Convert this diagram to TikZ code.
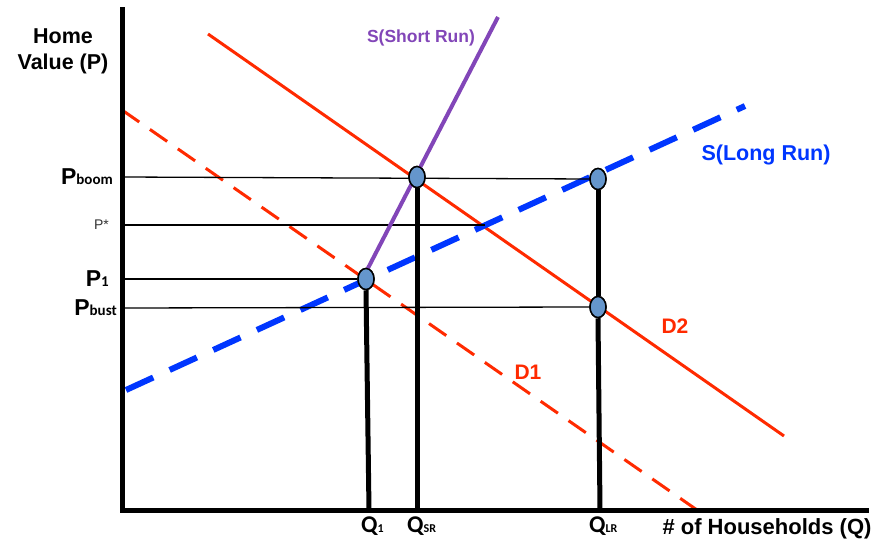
\documentclass[tikz,border=0pt]{standalone}
\usepackage{fontspec}
\setmainfont{Liberation Sans}
\newfontfamily\calib{Carlito}
\usetikzlibrary{shapes.geometric}
\definecolor{dred}{HTML}{FF2A00}
\definecolor{sblue}{HTML}{0036FF}
\definecolor{spurple}{HTML}{8246B8}
\definecolor{dotfill}{HTML}{6596CC}
\tikzset{
  axis/.style={line width=5pt, line cap=rect},
  guide/.style={line width=1.3pt},
  drop/.style={line width=5pt},
  demand/.style={dred, line width=3pt},
  supplylr/.style={sblue, line width=6pt, dash pattern=on 30pt off 18pt},
  supplysr/.style={spurple, line width=4pt},
  eq/.style={ellipse, draw=black, line width=1.5pt, fill=dotfill, minimum width=16pt, minimum height=21pt, inner sep=0pt},
  lbl/.style={font=\bfseries, inner sep=0pt}
}
\begin{document}
\begin{tikzpicture}[x=1pt,y=-1pt]
\useasboundingbox (0,0) rectangle (875,545);
% axes
\coordinate (o) at (122,510);
\coordinate (ytop) at (122,10);
\coordinate (xend) at (866,510);
% demand and supply curves
\coordinate (d1a) at (122,110);
\coordinate (d1b) at (697,510);
\coordinate (d2a) at (208,34);
\coordinate (d2b) at (784,436);
\coordinate (lra) at (126,390);
\coordinate (lrb) at (745,106);
\coordinate (sra) at (366,272);
\coordinate (srb) at (498,17);
\draw[demand, dash pattern=on 21pt off 13pt] (d1a) -- (d1b);
\draw[demand] (d2a) -- (d2b);
\draw[supplylr] (lra) -- (lrb);
% guide lines
\coordinate (yboom) at (122,177);
\coordinate (ystar) at (122,225);
\coordinate (ystarend) at (485,225);
\coordinate (y1) at (122,279);
\coordinate (ybust) at (122,308);
\coordinate (x1) at (369,510);
\coordinate (xsr) at (417,510);
\coordinate (xlr) at (600,510);
\node[eq] (e1) at (366,279) {};
\node[eq] (esr) at (417,177) {};
\node[eq] (elr) at (598,179) {};
\node[eq] (ebust) at (598,307) {};
\draw[guide] (yboom) -- (elr.west);
\draw[guide] (ystar) -- (ystarend);
\draw[guide] (y1) -- (e1.west);
\draw[guide] (ybust) -- (ebust.west);
\draw[drop] (e1.south) -- (x1);
\draw[drop] (esr.south) -- (xsr);
\draw[drop] (elr.south) -- (ebust.north);
\draw[drop] (ebust.south) -- (xlr);
\draw[supplysr] (sra) -- (srb);
\node[eq] at (e1) {};
\node[eq] at (esr) {};
\node[eq] at (elr) {};
\node[eq] at (ebust) {};
\draw[axis] (ytop) -- (o) -- (xend);
% labels
\node[lbl, font=\bfseries\fontsize{21.5}{26}\selectfont, align=center] (ylab) at (63,51) {Home\\Value (P)};
\node[lbl, anchor=base east] (lboom) at (113,185) {\fontsize{23}{23}\selectfont P{\calib\fontsize{15}{15}\selectfont boom}};
\node[inner sep=0pt, anchor=base east, text=black!80] (lstar) at (109,230) {\fontsize{14}{14}\selectfont P*};
\node[lbl, anchor=base east] (l1) at (109,287) {\fontsize{23}{23}\selectfont P{\calib\fontsize{15}{15}\selectfont 1}};
\node[lbl, anchor=base east] (lbust) at (117,316) {\fontsize{23}{23}\selectfont P{\calib\fontsize{15}{15}\selectfont bust}};
\node[lbl, anchor=base west] (q1) at (361,532) {\calib\fontsize{24}{24}\selectfont Q\fontsize{12}{12}\selectfont 1};
\node[lbl, anchor=base west] (qsr) at (407,532) {\calib\fontsize{24}{24}\selectfont Q\fontsize{12}{12}\selectfont SR};
\node[lbl, anchor=base west] (qlr) at (589,532) {\calib\fontsize{24}{24}\selectfont Q\fontsize{12}{12}\selectfont LR};
\node[lbl, font=\bfseries\fontsize{22}{22}\selectfont] (xlab) at (767,529) {\# of Households (Q)};
\node[lbl, text=spurple, font=\bfseries\fontsize{17.5}{17.5}\selectfont] (srlab) at (421,38) {S(Short Run)};
\node[lbl, text=sblue, font=\bfseries\fontsize{21.5}{21.5}\selectfont] (lrlab) at (766,155) {S(Long Run)};
\node[lbl, text=dred, font=\bfseries\fontsize{21}{21}\selectfont] (d2lab) at (675,326) {D2};
\node[lbl, text=dred, font=\bfseries\fontsize{21}{21}\selectfont] (d1lab) at (528,372) {D1};
\end{tikzpicture}
\end{document}
